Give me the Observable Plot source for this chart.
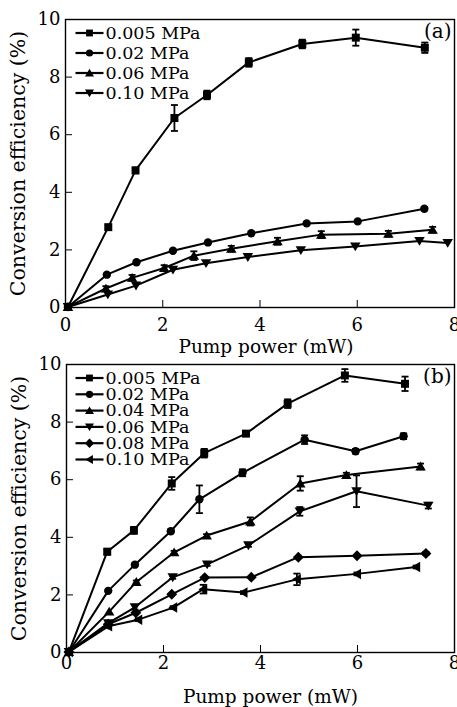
<!DOCTYPE html>
<html><head><meta charset="utf-8">
<script src="https://cdn.jsdelivr.net/npm/d3@7"></script>
<script src="https://cdn.jsdelivr.net/npm/@observablehq/plot@0.6"></script>
<style>
html,body{margin:0;padding:0;background:#fff;}
#chart svg{display:block;}
</style></head><body><div id="chart"></div>
<script>
// ---------- data ----------
const xTicks = [0, 2, 4, 6, 8];
const yTicks = [0, 2, 4, 6, 8, 10];
const xLabel = "Pump power (mW)";
const yLabel = "Conversion efficiency (%)";

// Panel (a)
const aNames = ["0.005 MPa", "0.02 MPa", "0.06 MPa", "0.10 MPa"];
const aX = [
  [0.05, 0.88, 1.44, 2.24, 2.91, 3.77, 4.87, 5.97, 7.39],
  [0.05, 0.85, 1.46, 2.21, 2.93, 3.82, 4.96, 6.01, 7.38],
  [0.05, 0.83, 1.37, 2.03, 2.64, 3.41, 4.36, 5.26, 6.64, 7.55],
  [0.05, 0.87, 1.45, 2.21, 2.89, 3.75, 4.84, 5.96, 7.28, 7.86]
];
const aY = [
  [0.02, 2.79, 4.76, 6.58, 7.38, 8.51, 9.15, 9.37, 9.02],
  [0.02, 1.14, 1.57, 1.97, 2.26, 2.58, 2.92, 2.99, 3.43],
  [0.02, 0.66, 1.03, 1.37, 1.80, 2.04, 2.30, 2.53, 2.56, 2.70],
  [0.02, 0.45, 0.76, 1.31, 1.54, 1.75, 1.99, 2.12, 2.31, 2.24]
];
const aErr = [
  [0, 0.06, 0.10, 0.45, 0.15, 0.15, 0.15, 0.28, 0.18],
  [0, 0, 0, 0, 0, 0, 0, 0, 0.06],
  [0, 0.08, 0.10, 0.10, 0.15, 0.10, 0.12, 0.12, 0.10, 0.10],
  [0, 0, 0, 0, 0, 0, 0, 0, 0, 0]
];

// Panel (b)
const bNames = ["0.005 MPa", "0.02 MPa", "0.04 MPa", "0.06 MPa", "0.08 MPa", "0.10 MPa"];
const bX = [
  [0.05, 0.84, 1.39, 2.17, 2.84, 3.70, 4.56, 5.74, 6.98],
  [0.05, 0.86, 1.41, 2.15, 2.74, 3.63, 4.91, 5.96, 6.95],
  [0.05, 0.88, 1.44, 2.22, 2.89, 3.79, 4.82, 5.77, 7.30],
  [0.05, 0.86, 1.41, 2.19, 2.90, 3.75, 4.81, 5.98, 7.46],
  [0.05, 0.86, 1.43, 2.17, 2.85, 3.81, 4.78, 5.99, 7.41],
  [0.05, 0.86, 1.48, 2.20, 2.82, 3.65, 4.75, 5.99, 7.21]
];
const bY = [
  [0.02, 3.50, 4.24, 5.87, 6.92, 7.60, 8.64, 9.62, 9.33],
  [0.02, 2.14, 3.05, 4.21, 5.32, 6.24, 7.39, 6.99, 7.51],
  [0.02, 1.42, 2.45, 3.48, 4.06, 4.55, 5.87, 6.16, 6.46],
  [0.02, 1.02, 1.57, 2.61, 3.06, 3.72, 4.90, 5.60, 5.10],
  [0.02, 0.98, 1.38, 2.02, 2.60, 2.61, 3.31, 3.36, 3.44],
  [0.02, 0.91, 1.14, 1.56, 2.20, 2.08, 2.54, 2.73, 2.97]
];
const bErr = [
  [0, 0.10, 0.12, 0.22, 0.15, 0.06, 0.15, 0.22, 0.25],
  [0, 0, 0.05, 0.06, 0.48, 0.12, 0.15, 0.08, 0.10],
  [0, 0, 0.05, 0.05, 0.05, 0.14, 0.25, 0.08, 0.10],
  [0, 0, 0.08, 0.05, 0.05, 0.05, 0.15, 0.55, 0.10],
  [0, 0, 0, 0, 0, 0, 0, 0, 0.05],
  [0, 0, 0.05, 0.05, 0.15, 0.05, 0.20, 0.05, 0.05]
];

// ---------- symbols ----------
function makeSym(fn) { return { draw(ctx, size) { const r = Math.sqrt(size / Math.PI); fn(ctx, r); } }; }
const symSquare = makeSym((c, r) => { const s = r * 0.95; c.rect(-s, -s, 2 * s, 2 * s); });
const symCircle = makeSym((c, r) => { c.moveTo(r, 0); c.arc(0, 0, r, 0, 2 * Math.PI); });
const symUp = makeSym((c, r) => { c.moveTo(0, -r * 1.15); c.lineTo(r * 1.25, r * 0.95); c.lineTo(-r * 1.25, r * 0.95); c.closePath(); });
const symDown = makeSym((c, r) => { c.moveTo(0, r * 1.15); c.lineTo(r * 1.25, -r * 0.95); c.lineTo(-r * 1.25, -r * 0.95); c.closePath(); });
const symLeft = makeSym((c, r) => { c.moveTo(-r * 1.15, 0); c.lineTo(r * 0.95, -r * 1.25); c.lineTo(r * 0.95, r * 1.25); c.closePath(); });
const symDiamond = makeSym((c, r) => { const s = r * 1.3; c.moveTo(0, -s); c.lineTo(s, 0); c.lineTo(0, s); c.lineTo(-s, 0); c.closePath(); });
const symCap = makeSym((c, r) => { c.moveTo(-3.5, 0); c.lineTo(3.5, 0); });
const symLegLine = makeSym((c, r) => { c.moveTo(-14, 0); c.lineTo(14, 0); });

function panel(cfg) {
  const rows = [];
  cfg.names.forEach((name, i) => cfg.xs[i].forEach((x, j) =>
    rows.push({ series: name, i, x, y: cfg.ys[i][j], e: cfg.errs[i][j] || 0 })));
  const errRows = rows.filter(d => d.e > 0);
  const plotH = cfg.height - cfg.mt - cfg.mb;
  const plotW = 457 - cfg.ml - cfg.mr;
  const marks = [
    Plot.tickX(xTicks, { x: d => d, insetTop: plotH - 7, stroke: "#000", strokeWidth: 1 }),
    Plot.tickY(yTicks, { y: d => d, insetRight: plotW - 7, stroke: "#000", strokeWidth: 1 }),
    Plot.axisX({ ticks: xTicks, tickSize: 0, tickPadding: cfg.xPad, label: null, fontSize: 18 }),
    Plot.axisY({ ticks: yTicks, tickSize: 0, tickPadding: 5, label: null, fontSize: 18 }),
    Plot.line(rows, { x: "x", y: "y", z: "series", stroke: "#000", strokeWidth: 2 }),
    Plot.ruleX(errRows, { x: "x", y1: d => d.y - d.e, y2: d => d.y + d.e, stroke: "#000", strokeWidth: 1.8 }),
    Plot.dot(errRows, { x: "x", y: d => d.y + d.e, symbol: symCap, stroke: "#000", fill: "none", strokeWidth: 1.8 }),
    Plot.dot(errRows, { x: "x", y: d => d.y - d.e, symbol: symCap, stroke: "#000", fill: "none", strokeWidth: 1.8 })
  ];
  cfg.names.forEach((name, i) => {
    marks.push(Plot.dot(rows.filter(d => d.i === i), { x: "x", y: "y", symbol: cfg.syms[i], fill: "#000", stroke: "none", r: 4.2 }));
    const dy = 13.5 + i * cfg.legStep;
    marks.push(Plot.dot([name], { frameAnchor: "top-left", dx: cfg.legX, dy, symbol: symLegLine, stroke: "#000", fill: "none", strokeWidth: 2.2 }));
    marks.push(Plot.dot([name], { frameAnchor: "top-left", dx: cfg.legX, dy, symbol: cfg.syms[i], fill: "#000", stroke: "none", r: 3.6 }));
    marks.push(Plot.text([name], { frameAnchor: "top-left", dx: cfg.legX + 16, dy, text: d => d, textAnchor: "start", lineAnchor: "middle", fontSize: 17.5 }));
  });
  marks.push(Plot.text([yLabel], { frameAnchor: "left", dx: -47, rotate: -90, text: d => d, textAnchor: "middle", lineAnchor: "middle", fontSize: 20.5 }));
  marks.push(Plot.text([xLabel], { frameAnchor: "bottom", dx: cfg.xlDx, dy: cfg.xlDy, text: d => d, textAnchor: "middle", lineAnchor: "bottom", fontSize: 18.5 }));
  marks.push(Plot.text([cfg.tag], { frameAnchor: "top-right", dx: -3, dy: 4, text: d => d, textAnchor: "end", lineAnchor: "top", fontSize: 20 }));
  marks.push(Plot.frame({ stroke: "#000", strokeWidth: 1.4 }));
  return Plot.plot({
    width: 457, height: cfg.height,
    marginTop: cfg.mt, marginBottom: cfg.mb, marginLeft: cfg.ml, marginRight: cfg.mr,
    x: { domain: [0, 8] },
    y: { domain: [0, 10] },
    style: { fontFamily: "'DejaVu Serif', serif", fontSize: "17px", color: "#000", background: "transparent", overflow: "visible" },
    marks
  });
}

const chart = document.getElementById("chart");
chart.appendChild(panel({
  names: aNames, xs: aX, ys: aY, errs: aErr,
  syms: [symSquare, symCircle, symUp, symDown],
  height: 355, mt: 19, mb: 48, ml: 65, mr: 3,
  xPad: 11, xlDx: 6, xlDy: 45, legX: 24, legStep: 20, tag: "(a)"
}));
chart.appendChild(panel({
  names: bNames, xs: bX, ys: bY, errs: bErr,
  syms: [symSquare, symCircle, symUp, symDown, symDiamond, symLeft],
  height: 352, mt: 9, mb: 55, ml: 66, mr: 3,
  xPad: 4, xlDx: 10, xlDy: 50, legX: 23, legStep: 16.3, tag: "(b)"
}));
</script></body></html>
